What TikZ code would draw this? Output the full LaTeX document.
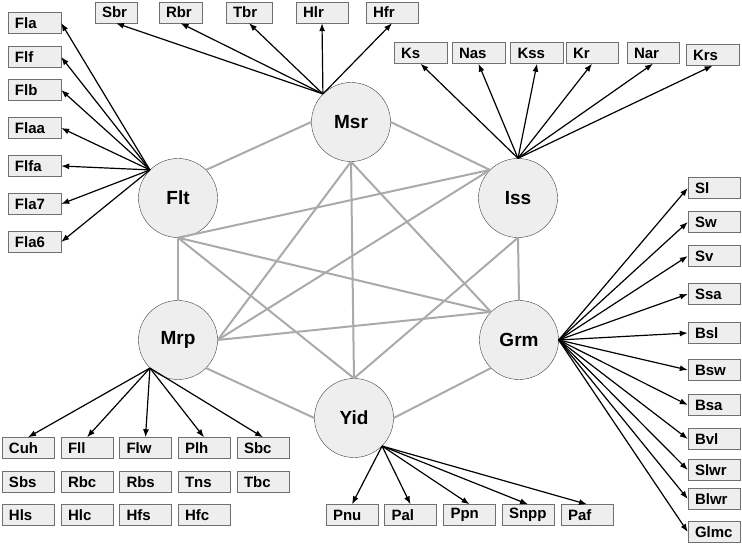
\documentclass[tikz,border=0pt]{standalone}
\usepackage{fontspec}
\setmainfont{Liberation Sans}
\usetikzlibrary{arrows.meta}
\definecolor{boxfill}{HTML}{EEEEEE}
\definecolor{boxline}{HTML}{707070}
\definecolor{edgegray}{HTML}{AAAAAA}
\begin{document}
\begin{tikzpicture}[x=1pt, y=-1pt, >={Latex[length=8pt,width=6pt]},
    hub/.style={circle, draw=black!75, fill=boxfill, minimum size=79pt, inner sep=0pt, font=\fontsize{19}{21}\selectfont\bfseries},
    leaf/.style={draw=boxline, fill=boxfill, minimum height=21pt, inner xsep=7pt, inner ysep=0pt, text width=39pt, align=left, font=\fontsize{15}{17}\selectfont\bfseries},
    link/.style={draw=edgegray, line width=2pt},
    ray/.style={->, line width=1.2pt}]
    \useasboundingbox (0,0) rectangle (742,545);
    % hubs
    \node[hub] (msr) at (351, 122) {Msr};
    \node[hub] (flt) at (178, 198) {Flt};
    \node[hub] (iss) at (518, 198) {Iss};
    \node[hub] (mrp) at (178, 340) {Mrp};
    \node[hub] (grm) at (519, 340) {Grm};
    \node[hub] (yid) at (354, 418) {Yid};
    % links between hubs
    \draw [link] (msr.west) to (flt.north east);
    \draw [link] (msr.east) to (iss.north west);
    \draw [link] (msr.south) to (mrp.east);
    \draw [link] (msr.south) to (yid.north);
    \draw [link] (msr.south) to (grm.north west);
    \draw [link] (flt.south) to (iss.north west);
    \draw [link] (flt.south) to (mrp.north);
    \draw [link] (flt.south) to (grm.north west);
    \draw [link] (flt.south) to (yid.north);
    \draw [link] (iss.north west) to (mrp.east);
    \draw [link] (iss.south) to (yid.north);
    \draw [link] (iss.south) to (grm.north);
    \draw [link] (mrp.east) to (grm.north west);
    \draw [link] (mrp.south east) to (yid.west);
    \draw [link] (grm.south west) to (yid.east);
    % Flt leaves
    \node[leaf] (fla) at (34.5, 23) {Fla};
    \node[leaf] (flf) at (34.5, 57) {Flf};
    \node[leaf] (flb) at (34.5, 90) {Flb};
    \node[leaf] (flaa) at (34.5, 128) {Flaa};
    \node[leaf] (flfa) at (34.5, 166) {Flfa};
    \node[leaf] (fla7) at (34.5, 204) {Fla7};
    \node[leaf] (fla6) at (34.5, 242) {Fla6};
    % Msr leaves
    \node[leaf, text width=28pt] (sbr) at (116, 12.5) {Sbr};
    \node[leaf, text width=29pt] (rbr) at (180.5, 12.5) {Rbr};
    \node[leaf, text width=32pt] (tbr) at (249, 12.5) {Tbr};
    \node[leaf, text width=38pt] (hlr) at (322, 12.5) {Hlr};
    \node[leaf, text width=38pt] (hfr) at (392, 12.5) {Hfr};
    % Iss leaves
    \node[leaf] (ks) at (420.5, 53) {Ks};
    \node[leaf] (nas) at (478.5, 53) {Nas};
    \node[leaf] (kss) at (537, 53) {Kss};
    \node[leaf, text width=38pt] (kr) at (592, 53) {Kr};
    \node[leaf, text width=38pt] (nar) at (653, 53) {Nar};
    \node[leaf] (krs) at (712.5, 55) {Krs};
    % Grm leaves
    \node[leaf, text width=38pt] (sl) at (714, 188) {Sl};
    \node[leaf, text width=38pt] (sw) at (714, 222) {Sw};
    \node[leaf, text width=38pt] (sv) at (714, 256) {Sv};
    \node[leaf, text width=38pt] (ssa) at (714, 294) {Ssa};
    \node[leaf, text width=38pt] (bsl) at (714, 333) {Bsl};
    \node[leaf, text width=38pt] (bsw) at (714, 370) {Bsw};
    \node[leaf, text width=38pt] (bsa) at (714, 405) {Bsa};
    \node[leaf, text width=38pt] (bvl) at (714, 439) {Bvl};
    \node[leaf, text width=38pt] (slwr) at (714, 470) {Slwr};
    \node[leaf, text width=38pt] (blwr) at (714, 499) {Blwr};
    \node[leaf, text width=38pt] (glmc) at (714, 532) {Glmc};
    % Mrp leaves
    \node[leaf, text width=38pt] (cuh) at (28, 448) {Cuh};
    \node[leaf, text width=38pt] (fll) at (87, 448) {Fll};
    \node[leaf, text width=38pt] (flw) at (145.5, 448) {Flw};
    \node[leaf, text width=38pt] (plh) at (204, 448) {Plh};
    \node[leaf, text width=38pt] (sbc) at (263, 448) {Sbc};
    \node[leaf, text width=38pt] (sbs) at (28, 482) {Sbs};
    \node[leaf, text width=38pt] (rbc) at (87, 482) {Rbc};
    \node[leaf, text width=38pt] (rbs) at (145.5, 482) {Rbs};
    \node[leaf, text width=38pt] (tns) at (204, 482) {Tns};
    \node[leaf, text width=38pt] (tbc) at (263, 482) {Tbc};
    \node[leaf, text width=38pt] (hls) at (28, 515) {Hls};
    \node[leaf, text width=38pt] (hlc) at (87, 515) {Hlc};
    \node[leaf, text width=38pt] (hfs) at (145.5, 515) {Hfs};
    \node[leaf, text width=38pt] (hfc) at (204, 515) {Hfc};
    % Yid leaves
    \node[leaf, text width=38pt] (pnu) at (352, 515) {Pnu};
    \node[leaf, text width=38pt] (pal) at (410.5, 515) {Pal};
    \node[leaf, text width=38pt] (ppn) at (469.5, 515) {Ppn};
    \node[leaf, text width=38pt] (snpp) at (528, 515) {Snpp};
    \node[leaf, text width=38pt] (paf) at (587, 515) {Paf};
    % arrows
    \draw [ray] (flt.north west) to (fla.east);
    \draw [ray] (flt.north west) to (flf.east);
    \draw [ray] (flt.north west) to (flb.east);
    \draw [ray] (flt.north west) to (flaa.east);
    \draw [ray] (flt.north west) to (flfa.east);
    \draw [ray] (flt.north west) to (fla7.east);
    \draw [ray] (flt.north west) to (fla6.east);
    \draw [ray] (msr.north west) to (sbr.south);
    \draw [ray] (msr.north west) to (rbr.south);
    \draw [ray] (msr.north west) to (tbr.south);
    \draw [ray] (msr.north west) to (hlr.south);
    \draw [ray] (msr.north west) to (hfr.south);
    \draw [ray] (iss.north) to (ks.south);
    \draw [ray] (iss.north) to (nas.south);
    \draw [ray] (iss.north) to (kss.south);
    \draw [ray] (iss.north) to (kr.south);
    \draw [ray] (iss.north) to (nar.south);
    \draw [ray] (iss.north) to (krs.south);
    \draw [ray] (grm.east) to (sl.west);
    \draw [ray] (grm.east) to (sw.west);
    \draw [ray] (grm.east) to (sv.west);
    \draw [ray] (grm.east) to (ssa.west);
    \draw [ray] (grm.east) to (bsl.west);
    \draw [ray] (grm.east) to (bsw.west);
    \draw [ray] (grm.east) to (bsa.west);
    \draw [ray] (grm.east) to (bvl.west);
    \draw [ray] (grm.east) to (slwr.west);
    \draw [ray] (grm.east) to (blwr.west);
    \draw [ray] (grm.east) to (glmc.west);
    \draw [ray] (mrp.south west) to (cuh.north);
    \draw [ray] (mrp.south west) to (fll.north);
    \draw [ray] (mrp.south west) to (flw.north);
    \draw [ray] (mrp.south west) to (plh.north);
    \draw [ray] (mrp.south west) to (sbc.north);
    \draw [ray] (yid.south east) to (pnu.north);
    \draw [ray] (yid.south east) to (pal.north);
    \draw [ray] (yid.south east) to (ppn.north);
    \draw [ray] (yid.south east) to (snpp.north);
    \draw [ray] (yid.south east) to (paf.north);
\end{tikzpicture}
\end{document}
